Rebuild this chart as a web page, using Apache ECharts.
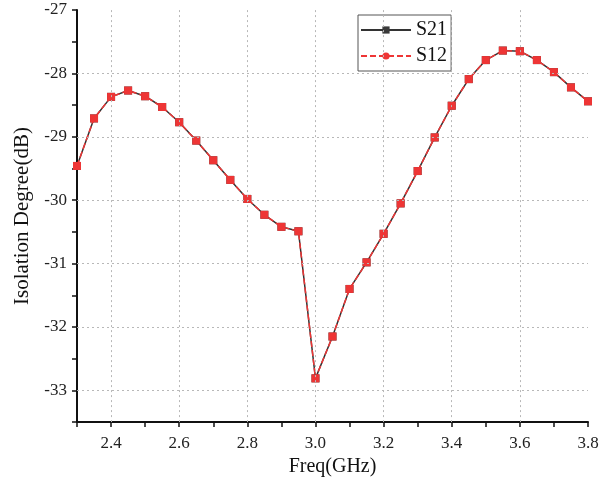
<!DOCTYPE html>
<html><head><meta charset="utf-8">
<script src="https://cdn.jsdelivr.net/npm/echarts@6/dist/echarts.min.js"></script>
<style>html,body{margin:0;padding:0;background:#fff}#c{width:608px;height:482px}</style>
</head><body><div id="c"></div>
<script>
const freq = [2.30,2.35,2.40,2.45,2.50,2.55,2.60,2.65,2.70,2.75,2.80,2.85,2.90,2.95,3.00,3.05,3.10,3.15,3.20,3.25,3.30,3.35,3.40,3.45,3.50,3.55,3.60,3.65,3.70,3.75,3.80];
const s21 = [-29.46,-28.71,-28.37,-28.27,-28.36,-28.53,-28.77,-29.06,-29.37,-29.68,-29.98,-30.23,-30.42,-30.49,-32.81,-32.15,-31.40,-30.98,-30.53,-30.05,-29.54,-29.01,-28.51,-28.09,-27.79,-27.64,-27.65,-27.79,-27.98,-28.22,-28.44];
const s12 = [-29.46,-28.71,-28.37,-28.27,-28.36,-28.53,-28.77,-29.06,-29.37,-29.68,-29.98,-30.23,-30.42,-30.49,-32.81,-32.15,-31.40,-30.98,-30.53,-30.05,-29.54,-29.01,-28.51,-28.09,-27.79,-27.64,-27.65,-27.79,-27.98,-28.22,-28.44];
const xGrid = [2.4,2.6,2.8,3.0,3.2,3.4,3.6];
const yGrid = [-28,-29,-30,-31,-32,-33];

const font = '"Liberation Serif", "DejaVu Serif", serif';
const chart = echarts.init(document.getElementById('c'), null, {renderer:'canvas'});
const gridStyle = {color:'#b8b8b8', type:[2,3], width:1};
chart.setOption({
  animation:false,
  backgroundColor:'#fff',
  grid:{left:77, right:20, top:10, bottom:59, containLabel:false},
  legend:{
    data:['S21','S12'], orient:'vertical', left:358, top:15,
    itemWidth:50, itemHeight:9, itemGap:6,
    textStyle:{fontFamily:font, fontSize:20, color:'#111'},
    borderColor:'#555', borderWidth:1, padding:[5,4,5,2]
  },
  xAxis:{
    type:'value', min:2.3, max:3.8, interval:0.1,
    name:'Freq(GHz)', nameLocation:'middle', nameGap:32,
    nameTextStyle:{fontFamily:font, fontSize:20, color:'#111'},
    axisLine:{lineStyle:{color:'#111', width:2}},
    axisTick:{show:true, length:5, lineStyle:{color:'#111', width:1.5}},
    axisLabel:{fontFamily:font, fontSize:17, color:'#222', margin:13,
      formatter:v=>{const k=Math.round(v*10); return (k%2===0)?(k/10).toFixed(1):'';}},
    splitLine:{show:false}
  },
  yAxis:{
    type:'value', min:-33.5, max:-27, interval:0.5,
    name:'Isolation Degree(dB)', nameLocation:'middle', nameGap:41,
    nameTextStyle:{fontFamily:font, fontSize:21, color:'#111'},
    axisLine:{show:true, lineStyle:{color:'#111', width:2}},
    axisTick:{show:true, length:5, lineStyle:{color:'#111', width:1.5}},
    axisLabel:{fontFamily:font, fontSize:17, color:'#222', margin:10,
      formatter:v=>{const r=Math.round(v); return Math.abs(v-r)<1e-6?String(r):'';}},
    splitLine:{show:false}
  },
  series:[
    {name:'grid', type:'line', data:[], silent:true, z:1,
      markLine:{silent:true, symbol:'none', label:{show:false}, lineStyle:gridStyle, animation:false,
        data:[...xGrid.map(v=>({xAxis:v})), ...yGrid.map(v=>({yAxis:v}))]}},
    {name:'S21', type:'line', z:3, data:freq.map((f,i)=>[f,s21[i]]),
      symbol:'rect', symbolSize:8, itemStyle:{color:'#3a3a3a'},
      lineStyle:{color:'#333', width:1.5}},
    {name:'S12', type:'line', z:4,
      data:freq.map((f,i)=>({value:[f,s12[i]], symbol:'rect'})),
      symbol:'circle', symbolSize:8, itemStyle:{color:'#ee3535'},
      lineStyle:{color:'#ee3535', width:1.5, type:[6,3]}}
  ]
});
</script></body></html>
